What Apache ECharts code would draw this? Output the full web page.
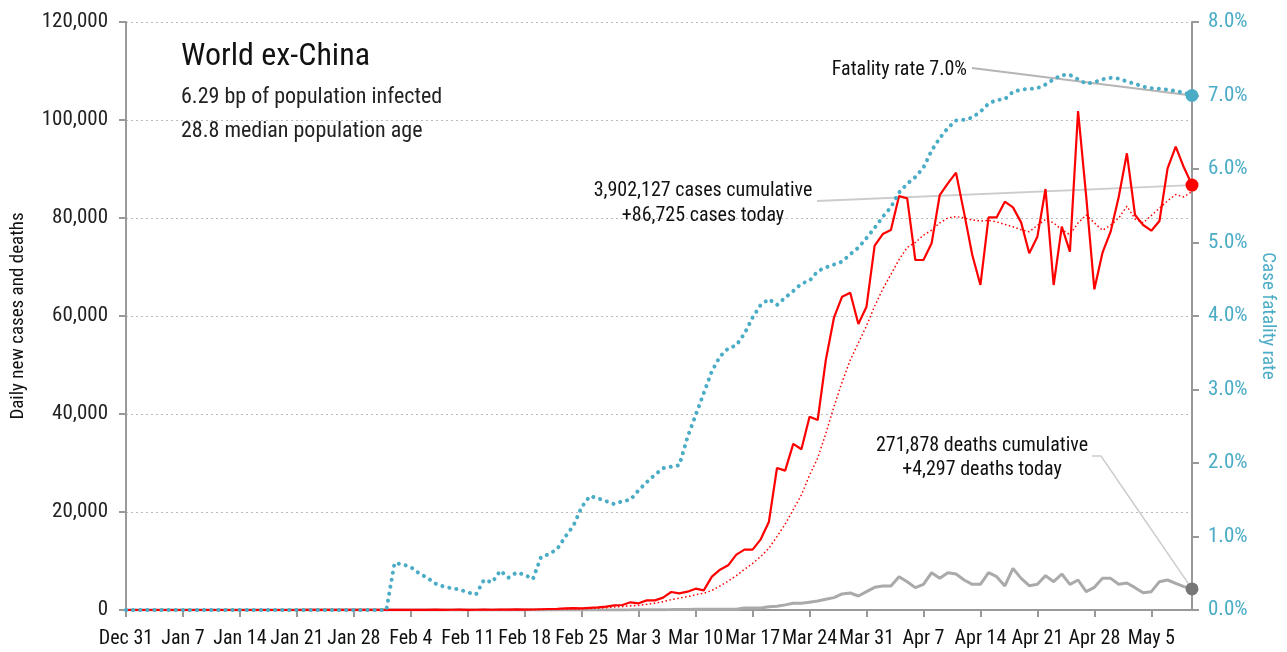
<!DOCTYPE html>
<html><head><meta charset="utf-8">
<script src="https://cdn.jsdelivr.net/npm/echarts@6/dist/echarts.min.js"></script>
<style>html,body{margin:0;padding:0;background:#fff}#c{width:1287px;height:652px}</style>
</head><body><div id="c"></div>
<script>
// ---------- data ----------
const startDate = [2019, 11, 31];   // Dec 31, 2019
const dayCount = 132;               // through May 10, 2020
const tickLabels = ['Dec 31','Jan 7','Jan 14','Jan 21','Jan 28','Feb 4','Feb 11','Feb 18','Feb 25','Mar 3','Mar 10','Mar 17','Mar 24','Mar 31','Apr 7','Apr 14','Apr 21','Apr 28','May 5'];
const leftTicks = [0, 20000, 40000, 60000, 80000, 100000, 120000];
const rightTicks = [0, 1, 2, 3, 4, 5, 6, 7, 8];

const dailyCases = [
  0,0,0,0,0,0,0,0,0,0, 0,0,0,1,0,1,1,1,0,3, 2,4,6,9,10,14,14,20,25,18,
  25,20,30,25,20,28,30,40,60,30, 50,60,40,50,60,50,80,75,120,90, 100,150,200,240,350,400,
  350,450,550,700,950,1020,1570,1360,1970,1970, 2520,3670,3400,3740,4350,4010,6800,8230,9120,11290,
  12310,12310,14420,17960,28980,28440,33900,32800,39450,38780, 51020,59650,63940,64760,58370,61900,74350,76730,77550,84490,
  84010,71430,71430,74830,84690,87070,89250,81000,72450,66330, 80140,80140,83330,82170,79110,72790,76190,85920,66330,78230,
  73130,101840,84350,65440,72930,77210,84350,93200,80610,78570, 77410,79390,90140,94550,90340,86725
];
const casesAvg7 = [
  0,0,0,0,0,0,0,0,0,0, 0,0,0,0,0,0,0,0,0,0, 1,2,3,4,5,7,9,11,14,16,
  18,20,22,24,25,25,27,30,35,38, 42,46,48,50,52,55,60,65,72,78, 85,95,110,130,160,200,
  250,300,380,480,600,700,850,950,1150,1400, 1700,2100,2400,2750,3100,3400,4000,4900,5900,7000,
  8300,9500,10900,12600,15000,17500,20500,23500,27500,31000, 36000,41500,46500,51000,54500,58000,62000,65500,68500,71500,
  74000,75000,76500,77500,79000,80000,80300,80000,79600,79400, 79500,79200,78700,78200,77600,77200,78500,79700,79000,77600,
  76600,79000,80600,79000,77500,78500,80000,82400,79800,79000, 80500,82000,83500,84800,84300,85400
];
const dailyDeaths = [
  0,0,0,0,0,0,0,0,0,0, 0,0,0,0,0,0,0,0,0,0, 0,0,0,0,0,0,0,0,0,0,
  0,0,1,0,0,0,0,0,0,0, 1,0,1,1,1,2,1,2,2,1, 3,2,4,5,6,8,
  10,12,15,18,20,25,30,40,50,60, 70,80,100,110,130,140,150,160,150,170,
  410,410,420,680,750,1050,1360,1360,1600,1840, 2180,2520,3270,3470,2860,3740,4630,4900,4900,6800,
  5780,4560,5240,7620,6460,7620,7350,6120,5240,5240, 7620,6800,4900,8500,6460,4970,5240,7010,5780,7350,
  5240,6120,3740,4630,6460,6460,5240,5510,4560,3540, 3740,5780,6120,5440,4760,4297
];
const fatalityRate = [
  0,0,0,0,0,0,0,0,0,0, 0,0,0,0,0,0,0,0,0,0, 0,0,0,0,0,0,0,0,0,0,
  0,0,0,0.64,0.62,0.585,0.50,0.44,0.36,0.32, 0.295,0.278,0.24,0.21,0.41,0.375,0.535,0.44,0.51,0.48, 0.42,0.72,0.76,0.83,1.00,1.15,
  1.40,1.55,1.52,1.48,1.44,1.48,1.50,1.63,1.74,1.84, 1.93,1.95,1.97,2.35,2.65,2.95,3.25,3.45,3.56,3.60,
  3.76,3.98,4.15,4.23,4.15,4.25,4.34,4.44,4.48,4.61, 4.66,4.70,4.74,4.84,4.93,5.06,5.20,5.35,5.48,5.68,
  5.80,5.89,6.02,6.25,6.42,6.56,6.66,6.67,6.70,6.78, 6.89,6.94,6.95,7.05,7.08,7.09,7.10,7.15,7.22,7.28,
  7.28,7.22,7.16,7.18,7.22,7.24,7.23,7.19,7.16,7.12, 7.10,7.09,7.08,7.06,7.04,7.00
];
const cumulativeCases = 3902127, todayCases = 86725;
const cumulativeDeaths = 271878, todayDeaths = 4297;
const latestRate = 7.0;
const titleText = 'World ex-China';
const subLines = ['6.29 bp of population infected', '28.8 median population age'];

// ---------- chart ----------
const MON = ['Jan','Feb','Mar','Apr','May','Jun','Jul','Aug','Sep','Oct','Nov','Dec'];
const categories = [];
for (let i = 0; i < dayCount; i++) {
  const d = new Date(startDate[0], startDate[1], startDate[2] + i);
  categories.push(MON[d.getMonth()] + ' ' + d.getDate());
}
const FONT = '"Liberation Sans Narrow", "Roboto Condensed", "DejaVu Sans Condensed", "Liberation Sans", sans-serif';
const TEAL = '#4bacc6';
const fmt = v => v.toLocaleString('en-US');
const last = dayCount - 1;

const chart = echarts.init(document.getElementById('c'), null, {renderer: 'canvas'});
chart.setOption({
  animation: false,
  textStyle: {fontFamily: FONT},
  grid: {left: 126, right: 95, top: 22, bottom: 42, containLabel: false},
  xAxis: {
    type: 'category', data: categories, boundaryGap: false,
    axisLine: {lineStyle: {color: '#999', width: 2}},
    axisTick: {interval: 6, length: 7, lineStyle: {color: '#999', width: 2}},
    axisLabel: {interval: 6, margin: 19, color: '#111', fontSize: 20, fontFamily: FONT,
      hideOverlap: false,
      formatter: v => tickLabels.indexOf(v) >= 0 ? v : ''},
    splitLine: {show: false}
  },
  yAxis: [{
    type: 'value', min: leftTicks[0], max: leftTicks[leftTicks.length - 1], interval: leftTicks[1] - leftTicks[0],
    name: 'Daily new cases and deaths', nameLocation: 'middle', nameGap: 98, nameRotate: 90,
    nameTextStyle: {color: '#111', fontSize: 19, fontFamily: FONT},
    axisLine: {show: true, lineStyle: {color: '#999', width: 2}},
    axisTick: {show: true, length: 7, lineStyle: {color: '#999', width: 2}},
    axisLabel: {color: '#222', fontSize: 21, margin: 18, fontFamily: FONT, formatter: v => fmt(v)},
    splitLine: {show: true, lineStyle: {color: '#bbb', type: [2, 3], width: 1}}
  }, {
    type: 'value', min: rightTicks[0], max: rightTicks[rightTicks.length - 1], interval: 1, position: 'right',
    name: 'Case fatality rate', nameLocation: 'middle', nameGap: 64, nameRotate: -90,
    nameTextStyle: {color: TEAL, fontSize: 19, fontFamily: FONT},
    axisLine: {show: true, lineStyle: {color: '#999', width: 2}},
    axisTick: {show: true, length: 7, lineStyle: {color: '#999', width: 2}},
    axisLabel: {color: TEAL, fontSize: 21, margin: 16, fontFamily: FONT, formatter: v => v.toFixed(1) + '%'},
    splitLine: {show: false}
  }],
  series: [{
    name: 'Deaths', type: 'line', data: dailyDeaths, yAxisIndex: 0, showSymbol: false, symbol: 'none',
    lineStyle: {color: '#aaaaaa', width: 3}, z: 2,
    markPoint: {symbol: 'circle', symbolSize: 13, itemStyle: {color: '#777'}, label: {show: false},
      data: [{coord: [last, dailyDeaths[last]]}]}
  }, {
    name: 'Cases 7d avg', type: 'line', data: casesAvg7, yAxisIndex: 0, showSymbol: false, symbol: 'none',
    lineStyle: {color: '#ff0000', width: 1.5, type: [1.5, 2.5]}, z: 3
  }, {
    name: 'Cases', type: 'line', data: dailyCases, yAxisIndex: 0, showSymbol: false, symbol: 'none',
    lineStyle: {color: '#ff0000', width: 2.2}, z: 4,
    markPoint: {symbol: 'circle', symbolSize: 13, itemStyle: {color: '#ff0000'}, label: {show: false},
      data: [{coord: [last, dailyCases[last]]}]}
  }, {
    name: 'Fatality rate', type: 'line', data: fatalityRate, yAxisIndex: 1, showSymbol: false, symbol: 'none',
    lineStyle: {color: TEAL, width: 4, type: [0.1, 7], cap: 'round'}, z: 5,
    markPoint: {symbol: 'circle', symbolSize: 13, itemStyle: {color: TEAL}, label: {show: false},
      data: [{coord: [last, fatalityRate[last]]}]}
  }]
});

const pC = chart.convertToPixel({xAxisIndex: 0, yAxisIndex: 0}, [last, dailyCases[last]]);
const pD = chart.convertToPixel({xAxisIndex: 0, yAxisIndex: 0}, [last, dailyDeaths[last]]);
const pR = chart.convertToPixel({xAxisIndex: 0, yAxisIndex: 1}, [last, fatalityRate[last]]);

function txt(x, y, text, size, align, color) {
  return {type: 'text', x: x, y: y, z: 100, silent: true,
    style: {text: text, font: size + 'px ' + FONT, fill: color || '#111',
      align: align, textAlign: align, verticalAlign: 'middle', textVerticalAlign: 'middle'}};
}
chart.setOption({graphic: [
  txt(181, 57, titleText, 32, 'left'),
  txt(181, 97, subLines[0], 22, 'left', '#222'),
  txt(181, 131, subLines[1], 22, 'left', '#222'),
  txt(967, 70, 'Fatality rate ' + latestRate.toFixed(1) + '%', 20, 'right'),
  txt(703, 191, fmt(cumulativeCases) + ' cases cumulative', 20, 'center'),
  txt(703, 216, '+' + fmt(todayCases) + ' cases today', 20, 'center'),
  txt(982, 446, fmt(cumulativeDeaths) + ' deaths cumulative', 20, 'center'),
  txt(982, 470, '+' + fmt(todayDeaths) + ' deaths today', 20, 'center'),
  {type: 'polyline', z: 1, silent: true, shape: {points: [[972, 68], pR]}, style: {stroke: '#b5b5b5', lineWidth: 1.8, fill: null}},
  {type: 'polyline', z: 1, silent: true, shape: {points: [[817, 201], pC]}, style: {stroke: '#cccccc', lineWidth: 1.8, fill: null}},
  {type: 'polyline', z: 1, silent: true, shape: {points: [[1092, 456], [1101, 456], pD]}, style: {stroke: '#cccccc', lineWidth: 1.5, fill: null}}
]});
</script></body></html>
